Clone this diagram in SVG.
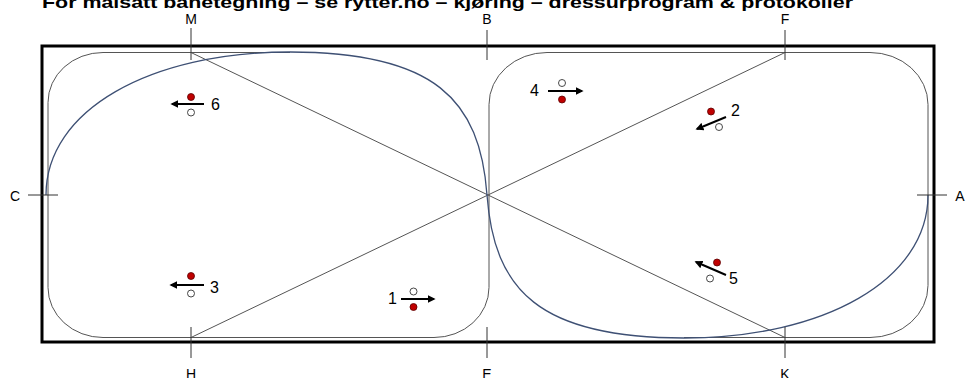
<svg xmlns="http://www.w3.org/2000/svg" width="975" height="378" viewBox="0 0 975 378">
<style>
text{font-family:"Liberation Sans",Arial,sans-serif;fill:#000}
.lbl{font-size:14px;text-anchor:middle}
.num{font-size:16px}
.track{fill:none;stroke:#555;stroke-width:1}
.serp{fill:none;stroke:#3e5074;stroke-width:1.3}
.diag{fill:none;stroke:#555;stroke-width:1}
.tick{stroke:#333;stroke-width:1}
.arr{stroke:#000;stroke-width:2;marker-end:url(#ah)}
.red{fill:#c00000;stroke:#5a0000;stroke-width:0.8}
.open{fill:#fff;stroke:#333;stroke-width:0.9}
</style>
<defs>
<marker id="ah" viewBox="0 0 10 10" refX="8" refY="5" markerWidth="4" markerHeight="4" orient="auto" markerUnits="strokeWidth">
<path d="M0,0 L10,5 L0,10 z" fill="#000"/>
</marker>
</defs>
<rect width="975" height="378" fill="#fff"/>
<text x="42" y="8" font-weight="bold" font-size="17" textLength="811" lengthAdjust="spacingAndGlyphs">For målsatt banetegning – se rytter.no – kjøring – dressurprogram &amp; protokoller</text>

<g id="arena">
<rect x="42" y="46" width="892" height="296" fill="none" stroke="#000" stroke-width="3"/>
</g>

<g id="connectors">
<path class="track" d="M290,52.5 L103,52.5 A55 50 0 0 0 48,102.5 L48,287.5 A55 50 0 0 0 103,337.5 L434,337.5 A55 50 0 0 0 489,287.5 L489,195"/>
<path class="track" d="M684,337.5 L870,337.5 A58 52 0 0 0 928,285.5 L928,104.5 A58 52 0 0 0 870,52.5 L547,52.5 A58 52 0 0 0 489,104.5 L489,195"/>
<line class="diag" x1="191" y1="52.5" x2="785" y2="337.5"/>
<line class="diag" x1="191" y1="337.5" x2="785" y2="52.5"/>
<path class="serp" d="M46,195 C46,110 150,52 290,52 C435,52 480,100 487,195 C494,290 539,338 684,338 C824,338 928,280 928,195"/>
</g>

<g id="M"><line class="tick" x1="191" y1="28" x2="191" y2="60"/><text class="lbl" x="191" y="24">M</text></g>
<g id="B"><line class="tick" x1="487" y1="30" x2="487" y2="60"/><text class="lbl" x="487" y="24">B</text></g>
<g id="F"><line class="tick" x1="785" y1="30" x2="785" y2="60"/><text class="lbl" x="785" y="24">F</text></g>
<g id="H"><line class="tick" x1="191" y1="327" x2="191" y2="358"/><text class="lbl" x="191" y="379">H</text></g>
<g id="E"><line class="tick" x1="487" y1="327" x2="487" y2="358"/><text class="lbl" x="487" y="379">E</text></g>
<g id="K"><line class="tick" x1="785" y1="327" x2="785" y2="358"/><text class="lbl" x="785" y="379">K</text></g>
<g id="C"><line class="tick" x1="28" y1="195" x2="58" y2="195"/><text class="lbl" x="15" y="201" font-size="15">C</text></g>
<g id="A"><line class="tick" x1="917" y1="195" x2="947" y2="195"/><text class="lbl" x="960" y="201" font-size="15">A</text></g>

<g id="fig6">
<circle class="red" cx="191" cy="97" r="3.5"/>
<line class="arr" x1="204" y1="104" x2="172" y2="104"/>
<circle class="open" cx="191" cy="112.5" r="3.5"/>
<text class="num" x="211" y="110">6</text>
</g>
<g id="fig4">
<text class="num" x="530" y="96">4</text>
<circle class="open" cx="562" cy="83" r="3.5"/>
<line class="arr" x1="548" y1="91" x2="582" y2="91"/>
<circle class="red" cx="562" cy="99.5" r="3.5"/>
</g>
<g id="fig2">
<circle class="red" cx="711" cy="111.5" r="3.5"/>
<line class="arr" x1="726" y1="117" x2="697" y2="129"/>
<circle class="open" cx="719" cy="127" r="3.5"/>
<text class="num" x="731" y="116">2</text>
</g>
<g id="fig3">
<circle class="red" cx="191" cy="276" r="3.5"/>
<line class="arr" x1="204" y1="285" x2="171" y2="285"/>
<circle class="open" cx="191" cy="293.5" r="3.5"/>
<text class="num" x="210" y="293">3</text>
</g>
<g id="fig1">
<text class="num" x="388" y="304">1</text>
<circle class="open" cx="413.5" cy="291.5" r="3.5"/>
<line class="arr" x1="401" y1="299" x2="434" y2="299"/>
<circle class="red" cx="413.5" cy="307" r="3.5"/>
</g>
<g id="fig5">
<circle class="red" cx="717" cy="262.5" r="3.5"/>
<line class="arr" x1="726" y1="275" x2="696" y2="262"/>
<circle class="open" cx="710" cy="278.5" r="3.5"/>
<text class="num" x="729" y="284">5</text>
</g>
</svg>
